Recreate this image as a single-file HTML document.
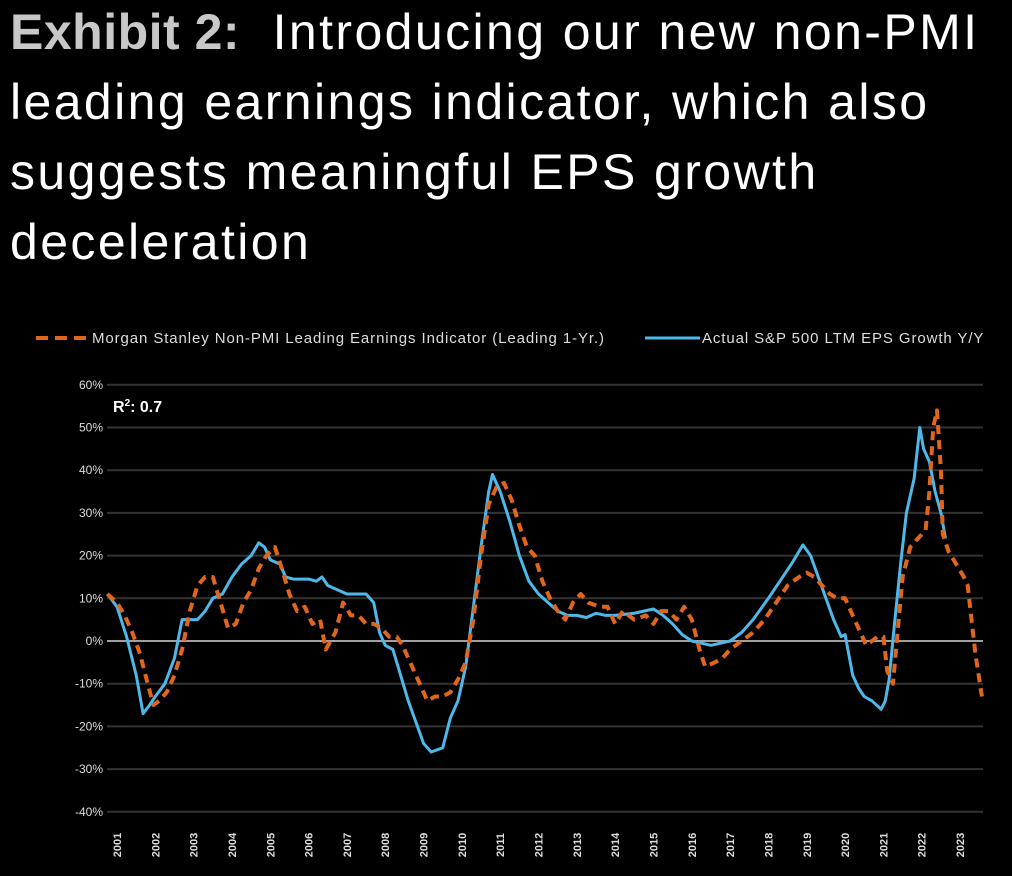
<!DOCTYPE html>
<html><head><meta charset="utf-8"><style>
html,body{margin:0;padding:0;background:#000;}
body{width:1012px;height:876px;overflow:hidden;position:relative;font-family:"Liberation Sans",sans-serif;}
#title{position:absolute;left:10px;top:-3px;color:#fff;font-size:50px;line-height:70px;letter-spacing:2.4px;white-space:nowrap;}
#title b{color:#c8c8c8;letter-spacing:0.5px;}
svg{position:absolute;left:0;top:0;}
</style></head><body>
<div id="title"><b>Exhibit 2:</b>&nbsp; Introducing our new non-PMI<br>leading earnings indicator, which also<br>suggests meaningful EPS growth<br>deceleration</div>
<svg id="chart" width="1012" height="876"></svg>
<script>
const yTicks=[60,50,40,30,20,10,0,-10,-20,-30,-40];
const years=[2001,2002,2003,2004,2005,2006,2007,2008,2009,2010,2011,2012,2013,2014,2015,2016,2017,2018,2019,2020,2021,2022,2023];
const blueT=[2000.75,2001.0,2001.25,2001.5,2001.68,2001.85,2002.0,2002.25,2002.5,2002.7,2002.9,2003.1,2003.3,2003.5,2003.75,2004.0,2004.25,2004.5,2004.7,2004.85,2005.0,2005.25,2005.4,2005.6,2006.0,2006.2,2006.35,2006.5,2006.75,2007.0,2007.3,2007.5,2007.7,2007.85,2008.0,2008.2,2008.4,2008.6,2008.8,2009.0,2009.2,2009.5,2009.7,2009.9,2010.1,2010.3,2010.5,2010.7,2010.8,2011.0,2011.25,2011.5,2011.75,2012.0,2012.25,2012.5,2012.75,2013.0,2013.25,2013.5,2013.75,2014.0,2014.5,2015.0,2015.25,2015.5,2015.75,2016.0,2016.5,2017.0,2017.3,2017.6,2018.0,2018.3,2018.6,2018.9,2019.1,2019.3,2019.5,2019.7,2019.9,2020.0,2020.2,2020.35,2020.5,2020.7,2020.94,2021.05,2021.15,2021.3,2021.45,2021.6,2021.8,2021.95,2022.05,2022.2,2022.35,2022.5,2022.62];
const blueV=[11,8,1,-8,-17,-15,-13,-10,-4,5,5,5,7,10,11,15,18,20,23,22,19,18,15,14.5,14.5,14,15,13,12,11,11,11,9,2,-1,-2,-8,-14,-19,-24,-26,-25,-18,-14,-6,8,22,35,39,35,28,20,14,11,9,7,6,6,5.5,6.5,6,6,6.5,7.5,6,4,1.5,0,-1,0,2,5,10,14,18,22.5,20,15,10,5,1,1.5,-8,-11,-13,-14,-16,-14,-9,5,18,30,38,50,45,42,35,30,24];
const orangeT=[2000.75,2001.0,2001.2,2001.4,2001.6,2001.8,2001.95,2002.1,2002.3,2002.5,2002.7,2002.9,2003.1,2003.3,2003.5,2003.7,2003.9,2004.1,2004.3,2004.5,2004.7,2004.9,2005.12,2005.3,2005.5,2005.7,2005.9,2006.1,2006.3,2006.45,2006.7,2006.9,2007.1,2007.3,2007.5,2007.7,2007.9,2008.1,2008.3,2008.45,2008.7,2008.9,2009.1,2009.3,2009.5,2009.7,2009.9,2010.1,2010.3,2010.5,2010.7,2010.9,2011.1,2011.3,2011.5,2011.7,2011.9,2012.1,2012.3,2012.5,2012.7,2012.9,2013.1,2013.3,2013.6,2013.8,2014.0,2014.2,2014.5,2014.8,2015.0,2015.2,2015.4,2015.6,2015.8,2016.0,2016.2,2016.35,2016.6,2016.8,2017.0,2017.3,2017.6,2017.9,2018.2,2018.5,2018.8,2019.0,2019.2,2019.4,2019.6,2019.8,2020.0,2020.2,2020.4,2020.55,2020.7,2020.85,2021.0,2021.1,2021.25,2021.35,2021.5,2021.7,2021.9,2022.1,2022.2,2022.3,2022.4,2022.5,2022.55,2022.7,2022.9,2023.1,2023.2,2023.3,2023.4,2023.57];
const orangeV=[11,9,6,2,-3,-10,-15,-14,-12,-8,-2,7,13,15,15,9,3,4,9,12,17,20,22,17,11,7,8,4,5,-2,2,9,6,6,4,4,3,1,1,-1,-6,-10,-14,-13,-13,-12,-9,-5,5,20,32,36,37,33,27,22,20,14,10,7,5,9,11,9,8,8,4,7,5,6,4,7,7,5,8,5,-2,-6,-5,-4,-2,0,2,5,9,13,15,16,15,13,11,10,10,6,2,-1,0,1,1,-7,-10,0,15,22,24,26,35,50,54,40,25,21,18,15,13,5,-3,-13];
const NS='http://www.w3.org/2000/svg';
const svg=document.getElementById('chart');
const X0=107,X1=983;
function x(t){return 117+(t-2001)*38.32;}
function y(v){return 641-v*4.27;}
function mk(tag,attrs,parent){const e=document.createElementNS(NS,tag);for(const k in attrs)e.setAttribute(k,attrs[k]);(parent||svg).appendChild(e);return e;}
yTicks.forEach(v=>{
  const l=mk('line',{x1:X0,x2:X1,y1:y(v),y2:y(v),stroke:v===0?'#a0a0a0':'#333','stroke-width':2});
  
  
  const t=mk('text',{x:103,y:y(v)+4,fill:'#ddd','font-size':12,'text-anchor':'end'});
  t.textContent=v+'%';
  
  
});
years.forEach(yr=>{
  const t=mk('text',{transform:'translate('+(x(yr)+4)+',845) rotate(-90)',fill:'#ddd','font-size':11,'font-weight':'bold','text-anchor':'middle'});
  t.textContent=yr;
  
  
});
function path(T,V){return T.map((t,i)=>(i?'L':'M')+x(t).toFixed(1)+','+y(V[i]).toFixed(1)).join('');}
const bl=mk('path',{d:path(blueT,blueV),fill:'none',stroke:'#4db8ea','stroke-width':3,'stroke-linejoin':'round'});


const ol=mk('path',{d:path(orangeT,orangeV),fill:'none',stroke:'#e0661c','stroke-width':4,'stroke-dasharray':'9,6','stroke-linejoin':'round'});


const r2=mk('text',{x:113,y:412,fill:'#fff','font-size':16,'font-weight':'bold'});
r2.innerHTML='R<tspan dy="-6" font-size="10">2</tspan><tspan dy="6">: 0.7</tspan>';


const lg1=mk('line',{x1:36,x2:90,y1:338,y2:338,stroke:'#e0661c','stroke-width':4,'stroke-dasharray':'12,7'});


const lt1=mk('text',{x:92,y:343,fill:'#ddd','font-size':15,'letter-spacing':'0.9'});
lt1.textContent='Morgan Stanley Non-PMI Leading Earnings Indicator (Leading 1-Yr.)';


const lg2=mk('line',{x1:645,x2:700,y1:338,y2:338,stroke:'#4db8ea','stroke-width':3});


const lt2=mk('text',{x:702,y:343,fill:'#ddd','font-size':15,'letter-spacing':'0.9'});
lt2.textContent='Actual S&P 500 LTM EPS Growth Y/Y';


</script>
</body></html>
